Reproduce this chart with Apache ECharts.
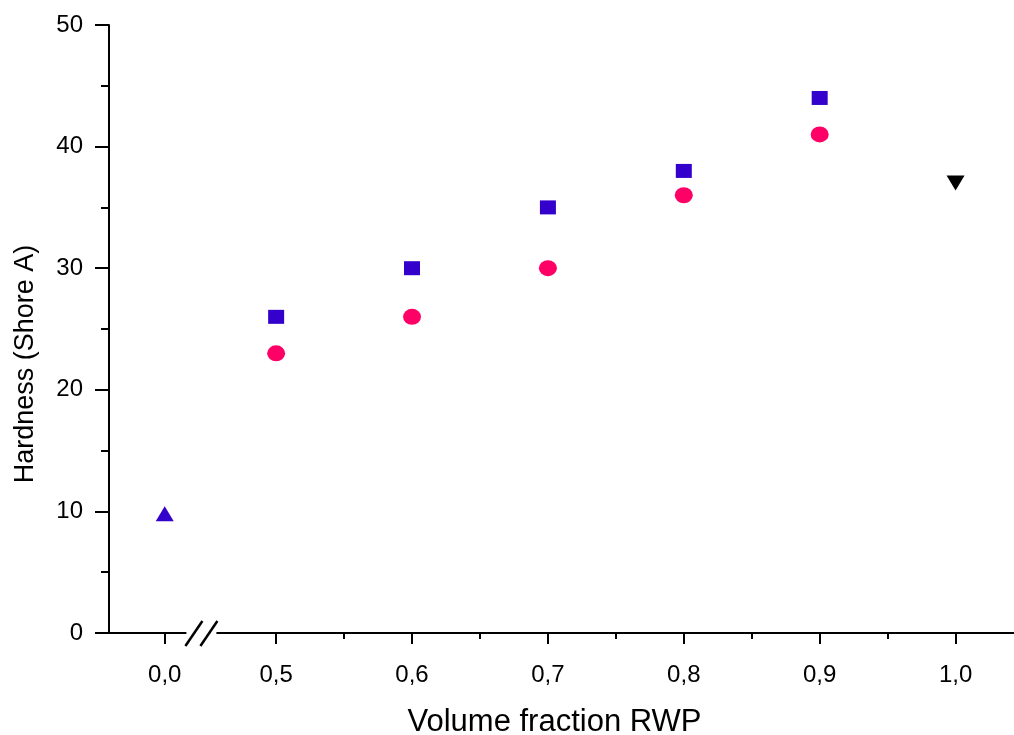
<!DOCTYPE html>
<html>
<head>
<meta charset="utf-8">
<script src="https://cdn.jsdelivr.net/npm/echarts@6/dist/echarts.min.js"></script>
<style>
  html, body { margin: 0; padding: 0; background: #fff; }
  #chart { width: 1014px; height: 735px; }
</style>
</head>
<body>
<div id="chart"></div>
<script>
// ---- data ----
const rwpFractions = [0.5, 0.6, 0.7, 0.8, 0.9];
const hardnessSquares = [26, 30, 35, 38, 44];
const hardnessCircles = [23, 26, 30, 36, 41];
const pureMatrixX = [0.0];
const pureMatrixHardness = [9.8];
const pureRwpX = [1.0];
const pureRwpHardness = [37];
const xTickValues = [0.0, 0.5, 0.6, 0.7, 0.8, 0.9, 1.0];
const xMinorTickValues = [0.55, 0.65, 0.75, 0.85, 0.95];

// broken axis: 0.0 is drawn at this axis position
const ZERO_POS = 0.418;
const BREAK_AT = 0.445;
function axisPos(x) { return x === 0 ? ZERO_POS : x; }
function pairs(xs, ys) { return xs.map((x, i) => [axisPos(x), ys[i]]); }

const FONT = 'Liberation Sans, Arial, sans-serif';
const chart = echarts.init(document.getElementById('chart'), null, { renderer: 'canvas' });

const xMin = 0.377, xMax = 1.043;

chart.setOption({
  backgroundColor: '#fff',
  animation: false,
  grid: { left: 109, right: 0, top: 25, bottom: 102, containLabel: false, outerBoundsMode: 'none' },
  xAxis: [{
    type: 'value', position: 'bottom', min: xMin, max: xMax,
    name: 'Volume fraction RWP', nameLocation: 'middle', nameGap: 74,
    nameTextStyle: { fontFamily: FONT, fontSize: 31, color: '#000', padding: [0, 14, 0, 0] },
    axisLine: { show: true, lineStyle: { color: '#000', width: 2 } },
    axisTick: { show: true, inside: false, length: 11, lineStyle: { color: '#000', width: 2 },
      customValues: xTickValues.map(axisPos) },
    axisLabel: { show: true, margin: 30, fontFamily: FONT, fontSize: 24, color: '#000',
      customValues: xTickValues.map(axisPos),
      formatter: function (v) {
        if (Math.abs(v - ZERO_POS) < 1e-6) return '0,0';
        return v.toFixed(1).replace('.', ',');
      } },
    splitLine: { show: false }
  }, {
    type: 'value', position: 'bottom', min: xMin, max: xMax,
    axisLine: { show: false },
    axisTick: { show: true, inside: false, length: 6, lineStyle: { color: '#000', width: 2 },
      customValues: xMinorTickValues },
    axisLabel: { show: false },
    splitLine: { show: false }
  }],
  yAxis: {
    type: 'value', min: 0, max: 50, interval: 10,
    name: 'Hardness (Shore A)', nameLocation: 'middle', nameGap: 70,
    nameTextStyle: { fontFamily: FONT, fontSize: 27, color: '#000', padding: [0, 70, 0, 0] },
    axisLine: { show: true, lineStyle: { color: '#000', width: 2 } },
    axisTick: { show: true, inside: false, length: 14, lineStyle: { color: '#000', width: 2 } },
    minorTick: { show: true, splitNumber: 2, length: 8, lineStyle: { color: '#000', width: 2 } },
    axisLabel: { margin: 26, fontFamily: FONT, fontSize: 24, color: '#000' },
    splitLine: { show: false }
  },
  series: [
    { type: 'scatter', name: 'squares', xAxisIndex: 0, symbol: 'rect', symbolSize: [16, 14],
      itemStyle: { color: '#3300CC', opacity: 1 }, data: pairs(rwpFractions, hardnessSquares) },
    { type: 'scatter', name: 'circles', xAxisIndex: 0, symbol: 'circle', symbolSize: [18, 16],
      itemStyle: { color: '#FF0066', opacity: 1 }, data: pairs(rwpFractions, hardnessCircles) },
    { type: 'scatter', name: 'matrix', xAxisIndex: 0, symbol: 'triangle', symbolSize: [18, 15],
      itemStyle: { color: '#3300CC', opacity: 1 }, data: pairs(pureMatrixX, pureMatrixHardness) },
    { type: 'scatter', name: 'rwp', xAxisIndex: 0, symbol: 'triangle', symbolRotate: 180, symbolSize: [18, 15],
      itemStyle: { color: '#000', opacity: 1 }, data: pairs(pureRwpX, pureRwpHardness) }
  ]
});

// axis break marks "//"
const bx = chart.convertToPixel({ xAxisIndex: 0 }, BREAK_AT);
const by = chart.convertToPixel({ yAxisIndex: 0 }, 0);
chart.setOption({
  graphic: [
    { type: 'rect', z: 100, shape: { x: bx - 15, y: by - 3, width: 30, height: 6 }, style: { fill: '#fff' } },
    { type: 'line', z: 101, shape: { x1: bx - 16, y1: by + 13, x2: bx + 1, y2: by - 12 },
      style: { stroke: '#000', lineWidth: 2.5 } },
    { type: 'line', z: 101, shape: { x1: bx - 1, y1: by + 13, x2: bx + 16, y2: by - 12 },
      style: { stroke: '#000', lineWidth: 2.5 } }
  ]
});
</script>
</body>
</html>
